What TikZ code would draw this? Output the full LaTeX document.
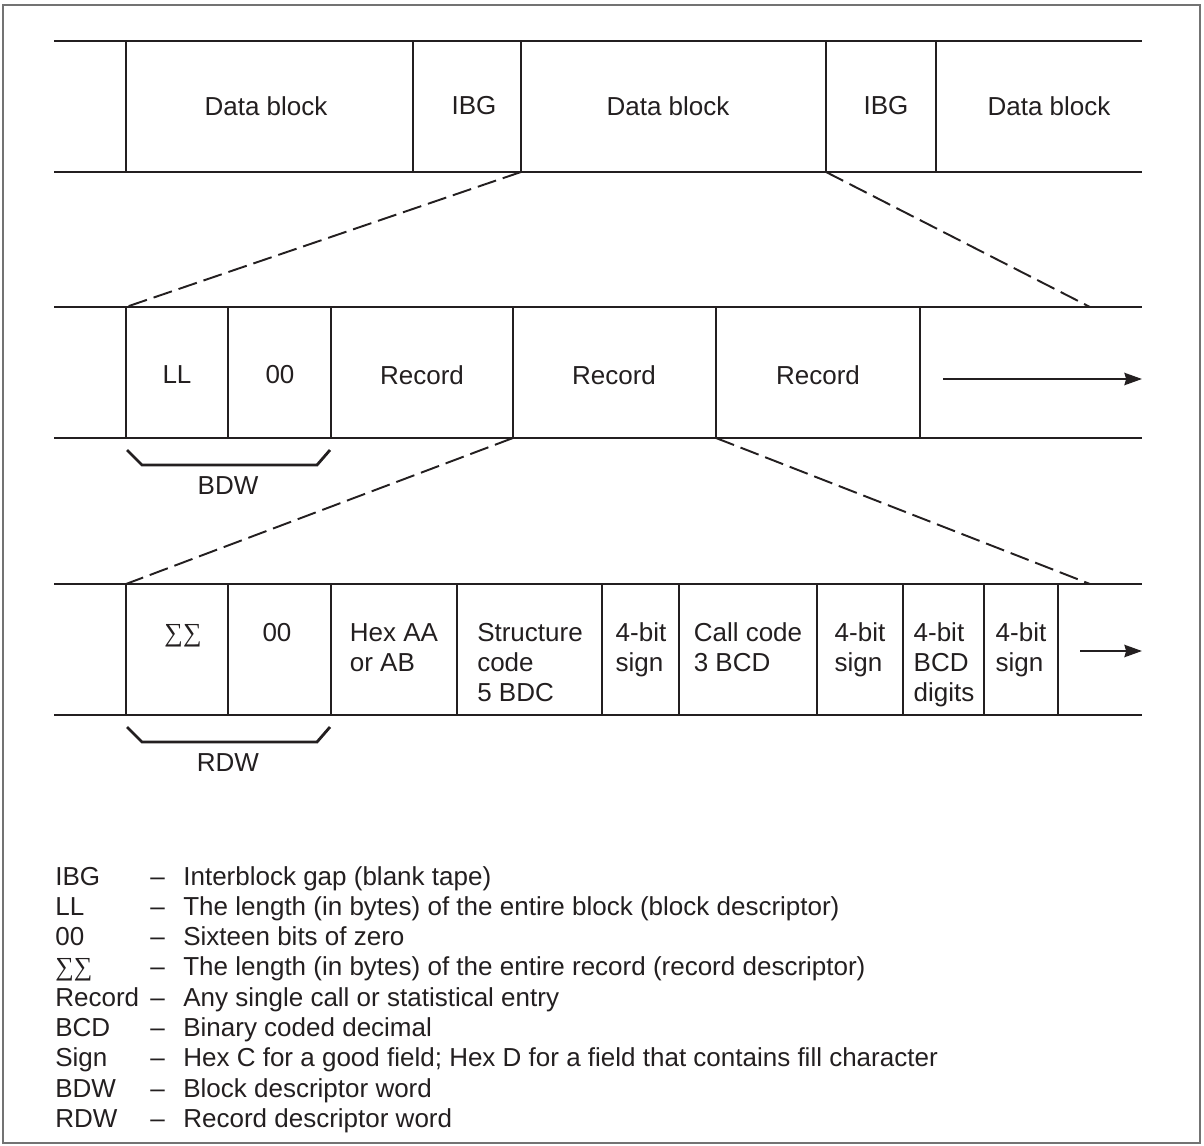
\documentclass[tikz,border=0pt]{standalone}
\usepackage{fontspec}
\setmainfont{Liberation Sans}
\newfontfamily\sigmafont{Liberation Serif}
\usetikzlibrary{arrows.meta}
\definecolor{ink}{HTML}{231F20}
\tikzset{
  tape/.style={line width=1.4pt, draw=ink},
  cut/.style={line width=1.1pt, draw=ink, dash pattern=on 11pt off 4pt},
  lbl/.style={inner sep=0pt, text=ink, font=\fontsize{14.8}{17}\selectfont},
  fld/.style={lbl, align=left, anchor=north},
  brace/.style={line width=1.6pt, draw=ink},
  goes/.style={line width=1.3pt, draw=ink, -{Stealth[length=10pt,width=7pt,inset=1pt]}}
}
\newcommand{\sums}{{\sigmafont ∑∑}}

\begin{document}
\begin{tikzpicture}[x=0.02cm,y=-0.02cm,line cap=butt,line join=miter]
  \useasboundingbox (0,0) rectangle (1204,1146);
  \draw[black!55, line width=0.6pt] (3,5) rectangle (1200,1143);

  % tape with data blocks
  \draw[tape] (54,41)--(1142,41) (54,172)--(1142,172);
  \foreach \x in {126,413,521,826,936} \draw[tape] (\x,41)--(\x,172);
  \node[lbl] (blkA) at (266,106) {Data block};
  \node[lbl] (gapA) at (474,106) {IBG};
  \node[lbl] (blkB) at (668,106) {Data block};
  \node[lbl] (gapB) at (886,106) {IBG};
  \node[lbl] (blkC) at (1049,106) {Data block};
  \coordinate (blkBl) at (521,172);
  \coordinate (blkBr) at (826,172);

  % one data block
  \draw[tape] (54,307)--(1142,307) (54,438)--(1142,438);
  \foreach \x in {126,228,331,513,716,920} \draw[tape] (\x,307)--(\x,438);
  \node[lbl] (ll) at (177,375) {LL};
  \node[lbl] (zeroA) at (280,375) {00};
  \node[lbl] (recA) at (422,375) {Record};
  \node[lbl] (recB) at (614,375) {Record};
  \node[lbl] (recC) at (818,375) {Record};
  \coordinate (dbl) at (126,307);
  \coordinate (dbr) at (1090,307);
  \coordinate (recBl) at (513,438);
  \coordinate (recBr) at (716,438);
  \coordinate (moreA) at (943,379);
  \coordinate (moreAend) at (1142,379);
  \draw[goes] (moreA) -- (moreAend);
  \draw[cut] (blkBl) -- (dbl) (blkBr) -- (dbr);

  \draw[brace] (127,450)--(142,465)--(317,465)--(330,450);
  \node[lbl] (bdw) at (228,486) {BDW};

  % one record
  \draw[tape] (54,584)--(1142,584) (54,715)--(1142,715);
  \foreach \x in {126,228,331,457,602,679,817,903,984,1058} \draw[tape] (\x,584)--(\x,715);
  \node[fld] (sig) at (183,620) {\strut\sums};
  \node[fld] (zeroB) at (277,620) {\strut 00};
  \node[fld] (hex) at (394,620) {\strut Hex AA\\or AB};
  \node[fld] (struct) at (530,620) {\strut Structure\\code\\5 BDC};
  \node[fld] (signA) at (641,620) {\strut 4-bit\\sign};
  \node[fld] (call) at (748,620) {\strut Call code\\3 BCD};
  \node[fld] (signB) at (860,620) {\strut 4-bit\\sign};
  \node[fld] (digits) at (944,620) {\strut 4-bit\\BCD\\digits};
  \node[fld] (signC) at (1021,620) {\strut 4-bit\\sign};
  \coordinate (rcl) at (126,584);
  \coordinate (rcr) at (1090,584);
  \coordinate (moreB) at (1080,651);
  \coordinate (moreBend) at (1142,651);
  \draw[goes] (moreB) -- (moreBend);
  \draw[cut] (recBl) -- (rcl) (recBr) -- (rcr);

  \draw[brace] (127,727)--(142,742)--(317,742)--(330,727);
  \node[lbl] (rdw) at (228,763) {RDW};

  % legend
  \foreach \abbr/\expl [count=\i] in {
      IBG/{Interblock gap (blank tape)},
      LL/{The length (in bytes) of the entire block (block descriptor)},
      00/{Sixteen bits of zero},
      {\sums}/{The length (in bytes) of the entire record (record descriptor)},
      Record/{Any single call or statistical entry},
      BCD/{Binary coded decimal},
      Sign/{Hex C for a good field; Hex D for a field that contains fill character},
      BDW/{Block descriptor word},
      RDW/{Record descriptor word}} {
    \pgfmathsetmacro{\ly}{885+(\i-1)*30.3}
    \node[lbl, anchor=base west] (key\i) at (55,\ly) {\abbr};
    \node[lbl, anchor=base west] (dash\i) at (150,\ly) {--};
    \node[lbl, anchor=base west] (txt\i) at (183,\ly) {\expl};
  }
\end{tikzpicture}
\end{document}
